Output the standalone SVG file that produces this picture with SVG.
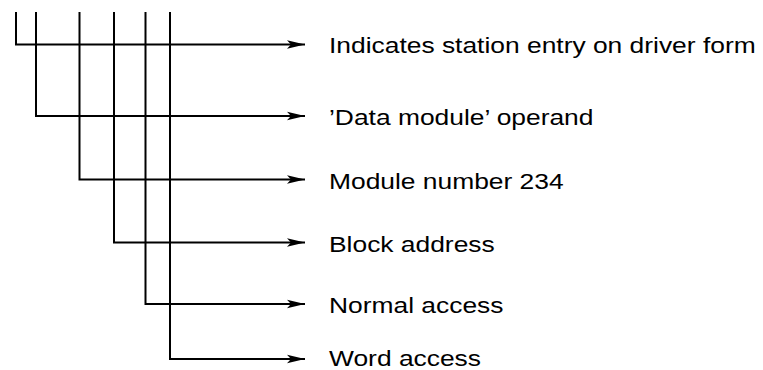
<svg xmlns="http://www.w3.org/2000/svg" width="763" height="370" viewBox="0 0 763 370">
<style>
.c{fill:none;stroke:#000;stroke-width:2;stroke-linecap:butt;stroke-linejoin:miter}
.t{font-family:"Liberation Sans",Arial,Helvetica,sans-serif;font-size:22px;fill:#000}
</style>
<defs>
<marker id="ah" markerUnits="userSpaceOnUse" markerWidth="20" markerHeight="12" refX="18" refY="6" orient="auto">
<path d="M0,1.8 L18,6 L0,10.2 L4,6 Z" fill="#000"/>
</marker>
</defs>
<rect width="763" height="370" fill="#fff"/>
<g id="connectors">
<path class="c" d="M16,12 V44.5 H305" marker-end="url(#ah)"/>
<path class="c" d="M36,12 V116 H305" marker-end="url(#ah)"/>
<path class="c" d="M79.5,12 V179.5 H305" marker-end="url(#ah)"/>
<path class="c" d="M114,12 V242.5 H305" marker-end="url(#ah)"/>
<path class="c" d="M145.5,12 V304 H305" marker-end="url(#ah)"/>
<path class="c" d="M170,12 V359 H305" marker-end="url(#ah)"/>
</g>
<g id="n1"><text class="t" transform="translate(329,53) scale(1.2,1)">Indicates station entry on driver form</text></g>
<g id="n2"><text class="t" transform="translate(329,125) scale(1.2,1)">’Data module’ operand</text></g>
<g id="n3"><text class="t" transform="translate(329,189) scale(1.2,1)">Module number 234</text></g>
<g id="n4"><text class="t" transform="translate(329,251.5) scale(1.2,1)">Block address</text></g>
<g id="n5"><text class="t" transform="translate(329,313) scale(1.2,1)">Normal access</text></g>
<g id="n6"><text class="t" transform="translate(329,366) scale(1.2,1)">Word access</text></g>
</svg>
